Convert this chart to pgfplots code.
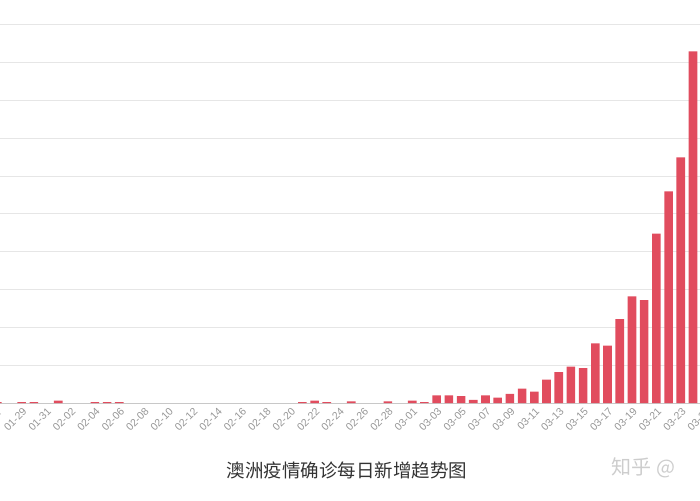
\documentclass[border=0pt]{standalone}
\usepackage{fontspec}
\setmainfont{Liberation Sans}
\newfontfamily\cjk{Noto Sans CJK SC}
\usepackage{pgfplots}
\pgfplotsset{compat=1.18}
\definecolor{barred}{RGB}{225,76,94}
\definecolor{gridgray}{RGB}{230,230,230}
\definecolor{axisgray}{RGB}{200,200,200}
\definecolor{labgray}{RGB}{150,150,150}
\definecolor{titlegray}{RGB}{51,51,51}
\definecolor{wmgray}{RGB}{205,205,205}
\begin{document}
\begin{tikzpicture}
\begin{axis}[
  at={(-21.1pt,97pt)}, anchor=south west,
  scale only axis, width=738.5pt, height=378pt,
  xmin=-3.5, xmax=57, ymin=0, ymax=500,
  axis x line=bottom, axis y line=left,
  x axis line style={axisgray, line width=1pt, -},
  y axis line style={draw=none},
  ytick={0,50,...,500}, yticklabels={},
  ymajorgrids, grid style={gridgray, line width=1pt},
  major tick length=0pt,
  xtick={-2,0,2,...,56},
  xticklabels={01-27,01-29,01-31,02-02,02-04,02-06,02-08,02-10,02-12,02-14,02-16,02-18,02-20,02-22,02-24,02-26,02-28,03-01,03-03,03-05,03-07,03-09,03-11,03-13,03-15,03-17,03-19,03-21,03-23,03-25},
  xticklabel style={rotate=45, anchor=east, font=\fontsize{10.5}{12}\selectfont, text=labgray, yshift=-7pt, xshift=1pt},
  clip=false,
]
\addplot[ybar, bar width=8.6pt, fill=barred, draw=none] coordinates {
(-2,1) (0,1) (1,1) (3,3) (6,1) (7,1) (8,1)
(23,1) (24,3) (25,1) (27,2) (30,2)
(32,3) (33,1) (34,10) (35,10) (36,9) (37,4) (38,10) (39,7) (40,12)
(41,19) (42,15) (43,31) (44,41) (45,48) (46,46) (47,79) (48,76)
(49,111) (50,141) (51,136) (52,224) (53,280) (54,325) (55,465)
};
\end{axis}
\node[font=\cjk\fontsize{18.5}{20}\selectfont, text=titlegray] at (347pt,30pt) {澳洲疫情确诊每日新增趋势图};
\node[font=\cjk\fontsize{20}{22}\selectfont, text=wmgray, anchor=west] at (608pt,32pt) {知乎 @};
\pgfresetboundingbox
\path[use as bounding box] (0,0) rectangle (700pt,500pt);
\end{tikzpicture}
\end{document}
